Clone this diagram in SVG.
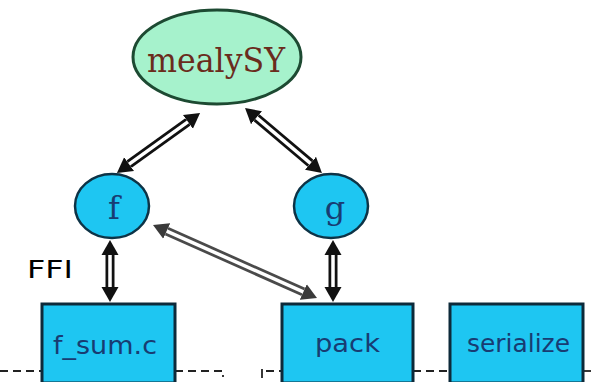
<svg xmlns="http://www.w3.org/2000/svg" width="592" height="382" viewBox="0 0 592 382">
  <style>
    .proc { fill: #1ec6f2; stroke: #0d3346; stroke-width: 2.5; }
    .box { fill: #1ec6f2; stroke: #0d2a3a; stroke-width: 3; }
    .top { fill: #a6f2cc; stroke: #1d4a32; stroke-width: 3; }
    .serif { font-family: "DejaVu Serif", "Liberation Serif", serif; }
    .sans { font-family: "DejaVu Sans", "Liberation Sans", sans-serif; }
    .lbl { fill: #183c72; }
    .outer { stroke: #111; stroke-width: 9; fill: none; }
    .outer.light { stroke: #4a4a4a; }
    .inner { stroke: #fff; stroke-width: 3.5; fill: none; }
    .dash { stroke: #222; stroke-width: 1.8; stroke-dasharray: 8 5; fill: none; }
  </style>
  <defs>
    <marker id="head" markerUnits="userSpaceOnUse" markerWidth="16" markerHeight="18" refX="0" refY="9" orient="auto-start-reverse" viewBox="0 0 16 18">
      <path d="M0,0.5 L15,9 L0,17.5 z" fill="#111"/>
    </marker>
    <marker id="headLight" markerUnits="userSpaceOnUse" markerWidth="16" markerHeight="18" refX="0" refY="9" orient="auto-start-reverse" viewBox="0 0 16 18">
      <path d="M0,0.5 L15,9 L0,17.5 z" fill="#3a3a3a"/>
    </marker>
  </defs>

  <rect width="592" height="382" fill="#fff"/>

  <!-- dashed boundary -->
  <g id="boundary">
    <path class="dash" d="M0,371 H42"/>
    <path class="dash" d="M175,371 H223 V377"/>
    <path d="M262,369 V378" stroke="#222" stroke-width="1.8"/>
    <path class="dash" d="M266,371 H282"/>
    <path class="dash" d="M413,371 H450"/>
    <path class="dash" d="M583,371 H592"/>
  </g>

  <!-- connectors: double-line arrows with heads at both ends -->
  <g id="connectors">
    <line class="outer" x1="187.9" y1="121.8" x2="129.1" y2="164.2" marker-start="url(#head)" marker-end="url(#head)"/>
    <line class="inner" x1="187.9" y1="121.8" x2="129.1" y2="164.2"/>

    <line class="outer" x1="256.5" y1="117.7" x2="310.5" y2="163.3" marker-start="url(#head)" marker-end="url(#head)"/>
    <line class="inner" x1="256.5" y1="117.7" x2="310.5" y2="163.3"/>

    <line class="outer" x1="110" y1="255" x2="110" y2="287" marker-start="url(#head)" marker-end="url(#head)"/>
    <line class="inner" x1="110" y1="255" x2="110" y2="287"/>

    <line class="outer" x1="333" y1="255" x2="333" y2="287" marker-start="url(#head)" marker-end="url(#head)"/>
    <line class="inner" x1="333" y1="255" x2="333" y2="287"/>

    <line class="outer light" x1="166.7" y1="231.1" x2="303.3" y2="291.9" marker-start="url(#headLight)" marker-end="url(#headLight)"/>
    <line class="inner" x1="166.7" y1="231.1" x2="303.3" y2="291.9"/>
  </g>

  <g id="mealySY">
    <ellipse class="top" cx="217" cy="57" rx="84" ry="47"/>
    <text class="serif" x="216" y="72" font-size="34" text-anchor="middle" fill="#6a2c1c" textLength="138" lengthAdjust="spacingAndGlyphs">mealySY</text>
  </g>

  <g id="f">
    <ellipse class="proc" cx="112" cy="206" rx="37" ry="32"/>
    <text class="serif lbl" x="114" y="219" font-size="32" text-anchor="middle">f</text>
  </g>

  <g id="g">
    <ellipse class="proc" cx="331" cy="206" rx="37" ry="32"/>
    <text class="serif lbl" x="335" y="219" font-size="32" text-anchor="middle">g</text>
  </g>

  <text id="ffi" class="sans" x="27" y="278" font-size="24" fill="#000" textLength="46" lengthAdjust="spacingAndGlyphs">FFI</text>

  <g id="f_sum_c">
    <rect class="box" x="42" y="304" width="133" height="79"/>
    <text class="sans lbl" x="53" y="354" font-size="25" textLength="104" lengthAdjust="spacingAndGlyphs">f_sum.c</text>
  </g>

  <g id="pack">
    <rect class="box" x="282" y="304" width="131" height="79"/>
    <text class="sans lbl" x="315" y="352" font-size="25" textLength="65" lengthAdjust="spacingAndGlyphs">pack</text>
  </g>

  <g id="serialize">
    <rect class="box" x="450" y="304" width="133" height="79"/>
    <text class="sans lbl" x="467" y="352" font-size="25" textLength="103" lengthAdjust="spacingAndGlyphs">serialize</text>
  </g>
</svg>
